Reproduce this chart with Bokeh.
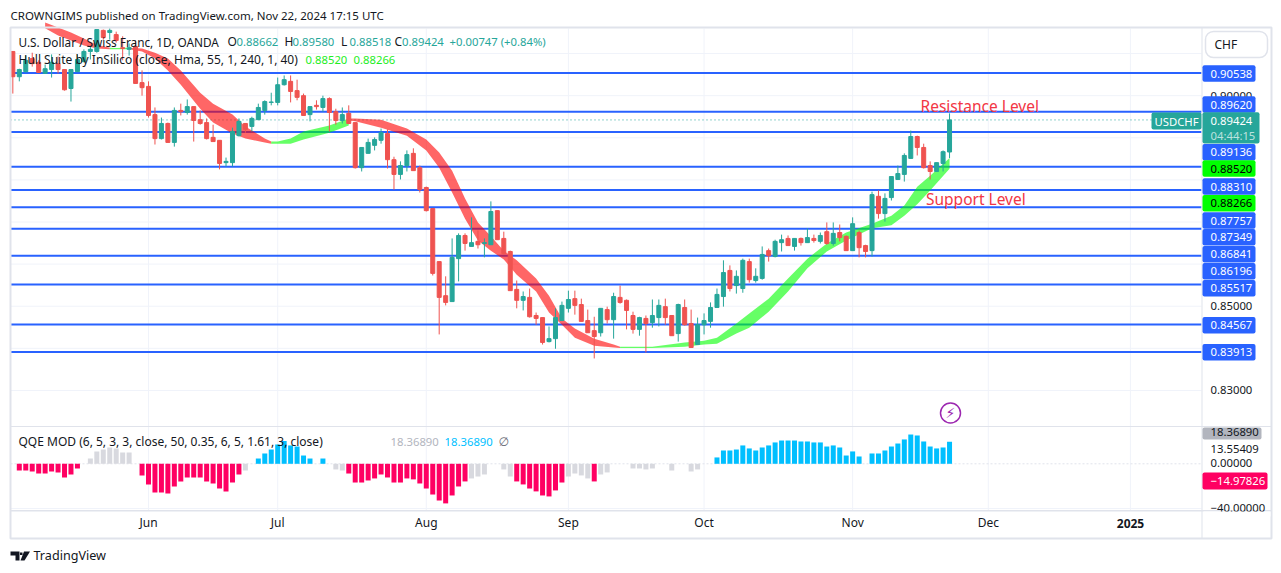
from bokeh.plotting import figure
from bokeh.embed import file_html
from bokeh.resources import INLINE
from bokeh.core.properties import value
from bokeh.models import (Range1d, FixedTicker, NumeralTickFormatter, Label, BoxAnnotation,
                          PolyAnnotation, ColumnDataSource)

opens = [.9105,.9045,.9057,.9088,.9079,.9053,.9062,.9076,.9062,.9017,.9057,.9081,.9105,.9105,.9155,.9150,.9145,.9114,.9110,.9117,.9031,
 .9022,.8955,.8898,.8934,.8889,.8965,.8960,.8974,.8943,.8936,.8901,.8894,.8841,.8841,.8905,.8934,.8927,.8943,.8965,.8984,
 .8984,.9026,.9034,.9012,.9000,.8955,.8977,.8972,.8993,.8962,.8941,.8958,.8936,.8829,.8863,.8882,.8894,.8910,.8848,.8813,
 .8834,.8863,.8829,.8782,.8732,.8606,.8525,.8511,.8613,.8668,.8642,.8654,.8649,.8646,.8727,.8661,.8630,.8540,.8514,.8521,
 .8478,.8473,.8416,.8423,.8466,.8495,.8518,.8504,.8466,.8442,.8437,.8492,.8468,.8521,.8514,.8478,.8445,.8471,.8461,.8473,
 .8499,.8478,.8435,.8497,.8459,.8409,.8456,.8464,.8497,.8523,.8585,.8549,.8542,.8606,.8561,.8566,.8632,.8618,.8651,.8661,
 .8642,.8661,.8651,.8661,.8654,.8677,.8649,.8675,.8666,.8632,.8675,.8644,.8632,.8761,.8720,.8758,.8801,.8813,.8851,.8903,
 .8877,.8834,.8820,.8839,.88662]
highs = [.9105,.9064,.9095,.9102,.9084,.9074,.9098,.9093,.9062,.9062,.9098,.9110,.9117,.9157,.9157,.9160,.9152,.9141,.9124,.9131,.9060,
 .9034,.8972,.8948,.8936,.8972,.8981,.8991,.8974,.8965,.8946,.8931,.8894,.8853,.8924,.8946,.8934,.8950,.8981,.8989,.9007,
 .9043,.9048,.9048,.9038,.9005,.8974,.8989,.9000,.8996,.8969,.8972,.8977,.8936,.8877,.8898,.8901,.8922,.8920,.8855,.8844,
 .8870,.8875,.8834,.8784,.8732,.8606,.8571,.8661,.8673,.8673,.8711,.8680,.8661,.8749,.8727,.8677,.8632,.8561,.8535,.8542,
 .8485,.8473,.8452,.8495,.8511,.8537,.8537,.8518,.8492,.8475,.8495,.8499,.8532,.8549,.8516,.8487,.8475,.8478,.8516,.8516,
 .8518,.8478,.8506,.8516,.8492,.8473,.8483,.8509,.8542,.8609,.8597,.8585,.8613,.8613,.8590,.8642,.8637,.8658,.8670,.8668,
 .8661,.8663,.8685,.8670,.8675,.8699,.8699,.8694,.8668,.8711,.8680,.8646,.8772,.8775,.8768,.8808,.8834,.8863,.8917,.8905,
 .8886,.8844,.8841,.8870,.89580]
lows = [.9005,.9034,.9055,.9069,.9055,.9053,.9043,.9053,.9012,.8986,.9057,.9079,.9086,.9102,.9133,.9133,.9126,.9084,.9095,.9029,.9000,
 .8948,.8884,.8896,.8889,.8879,.8953,.8955,.8891,.8931,.8896,.8891,.8825,.8832,.8832,.8903,.8912,.8915,.8943,.8955,.8977,
 .8977,.9024,.8984,.8989,.8953,.8939,.8967,.8962,.8915,.8931,.8934,.8934,.8827,.8820,.8863,.8870,.8886,.8827,.8777,.8801,
 .8820,.8822,.8770,.8725,.8573,.8433,.8502,.8511,.8559,.8632,.8642,.8637,.8616,.8646,.8658,.8623,.8537,.8495,.8490,.8473,
 .8456,.8409,.8414,.8399,.8466,.8485,.8480,.8464,.8437,.8376,.8428,.8459,.8423,.8506,.8445,.8435,.8430,.8390,.8449,.8452,
 .8456,.8430,.8416,.8454,.8402,.8409,.8433,.8449,.8497,.8499,.8535,.8530,.8532,.8556,.8556,.8563,.8606,.8616,.8630,.8644,
 .8632,.8644,.8651,.8651,.8649,.8646,.8644,.8654,.8632,.8632,.8616,.8616,.8618,.8708,.8701,.8751,.8801,.8796,.8851,.8858,
 .8827,.8801,.8820,.8820,.88518]
closes = [.9045,.9062,.9084,.9076,.9055,.9064,.9079,.9062,.9014,.9062,.9086,.9105,.9110,.9157,.9138,.9155,.9131,.9112,.9114,.9029,.9019,
 .8953,.8898,.8934,.8889,.8965,.8962,.8974,.8941,.8934,.8898,.8891,.8839,.8844,.8915,.8939,.8920,.8946,.8972,.8986,.8985,
 .9026,.9038,.9010,.8996,.8953,.8974,.8974,.8993,.8960,.8941,.8955,.8934,.8829,.8877,.8889,.8896,.8912,.8848,.8813,.8834,
 .8860,.8822,.8777,.8727,.8578,.8521,.8509,.8616,.8668,.8649,.8651,.8646,.8651,.8725,.8658,.8625,.8537,.8514,.8523,.8475,
 .8471,.8414,.8423,.8473,.8502,.8516,.8502,.8464,.8437,.8428,.8495,.8468,.8523,.8509,.8490,.8445,.8473,.8459,.8478,.8502,
 .8473,.8430,.8504,.8456,.8402,.8456,.8466,.8497,.8528,.8580,.8542,.8571,.8609,.8563,.8571,.8623,.8620,.8654,.8658,.8644,
 .8661,.8651,.8663,.8656,.8668,.8649,.8673,.8663,.8632,.8696,.8639,.8630,.8765,.8720,.8756,.8808,.8815,.8858,.8903,.8877,
 .8829,.8820,.8841,.8867,.89424]
bar_index = list(range(-21, 125))

levels = [.90538,.89620,.89136,.88310,.87757,.87349,.86841,.86196,.85517,.84567,.83913]
price_ticks = [.83, .85, .90]
grid_prices = [.83,.84,.85,.86,.87,.88,.89,.90,.91]
last_close = .89424
month_ticks = {0:"Jun",20:"Jul",43:"Aug",65:"Sep",86:"Oct",109:"Nov",130:"Dec",152:"2025"}

red_a_x = [-16,-14,-12,-10,-8,-6]
red_a_hi = [.9174,.9162,.9150,.9136,.9121,.9114]
red_a_lo = [.9160,.9143,.9131,.9119,.9112,.9110]
green_a_x = [-6,-5,-3]
green_a_hi = [.9114,.9113,.9114]
green_a_lo = [.9110,.9110,.9110]
red_b_x = [-3,-1,1,3,5,8,10,13,15,18,19]
red_b_hi = [.9114,.9112,.9102,.9088,.9060,.9007,.8981,.8955,.8927,.8898,.8891]
red_b_lo = [.9110,.9105,.9088,.9060,.9026,.8969,.8936,.8910,.8898,.8889,.8886]
green_b_x = [19,20,22,24,28,31]
green_b_hi = [.8891,.8891,.8898,.8915,.8929,.8946]
green_b_lo = [.8886,.8886,.8886,.8896,.8912,.8929]
red_c_x = [31,32,36,40,43,45,47,49,51,53,55,57,60,62,64,66,69,72,73]
red_c_hi = [.8946,.8946,.8943,.8922,.8896,.8865,.8822,.8756,.8699,.8666,.8632,.8609,.8566,.8525,.8471,.8447,.8423,.8409,.8404]
red_c_lo = [.8941,.8939,.8924,.8905,.8870,.8829,.8770,.8708,.8656,.8632,.8611,.8575,.8535,.8485,.8456,.8425,.8406,.8402,.8401]
green_c_x = [73,78,83,86,88,91,93,96,99,102,105,108,112,115,117,119,121,124]
green_c_hi = [.8404,.8404,.8414,.8418,.8425,.8459,.8483,.8518,.8566,.8613,.8649,.8675,.8696,.8715,.8739,.8784,.8810,.88520]
green_c_lo = [.8401,.8401,.8404,.8409,.8411,.8435,.8449,.8487,.8535,.8590,.8630,.8656,.8685,.8692,.8715,.8742,.8775,.88266]

qqe_index = list(range(-20, 125))
qqe_values = [-5.6,-5.6,-6.4,-8.1,-8.1,-6.4,-7.2,-11.4,-8.9,-3.9,
 0,4.4,10.3,11.9,13.6,12.8,9.4,9.4,0,-9.7,
 -17.2,-23.9,-23.9,-24.7,-18.9,-14.7,-11.4,-11.4,-11.4,-14.7,
 -16.4,-20.6,-23,-15.6,-8.9,-5.6,0,4.4,8.6,11.9,
 16.1,19,15.3,14.4,6.9,4.4,0,4.4,0,-4.7,
 -5.6,-8.1,-15.6,-15.6,-13.9,-12.2,-8.9,-11.4,-15.6,-15.6,
 -12.2,-13,-16.4,-20.6,-25.6,-30.6,-33,-26.4,-18.9,-14.7,
 -12.2,-10.6,-8.9,0,0,-4.7,-10.6,-14.7,-17.2,-20.6,
 -23,-26.4,-27.2,-22.2,-15.6,-10.6,-8.1,-9.7,-12.2,-14.7,
 -8.9,-7.2,0,0,0,-3.9,-3.9,-4.7,-3.9,0,
 0,-5.6,0,0,-6.4,-4.7,0,0,5.3,11.1,
 11.1,11.9,15.3,12.8,11.1,13.6,15.3,17.8,19.4,19.4,
 19.4,18.6,18.6,17.8,17.8,14.4,15.3,13.6,6.9,10.3,
 6.1,0,8.6,8.6,11.1,14.4,16.9,20.3,24.4,23.6,
 18.6,14.4,12.8,13.6,18.37]
qqe_states = list("rrrrrrrrrr" "nnnnnnnnnr" "rrrrrrrrrr" "rrrrrnnbbb" "bbbbbbnbnn"
                  "nrrrrrrrrr" "rrrrrrrrrr" "nnnnnnnrrr" "rrrrrnnnnr" "nnnnnnnnnn"
                  "nnnnnnnnbb" "bbbbbbbbbb" "bbbbbbbbbb" "bnbbbbbbbb" "bbbbb")

FONT = "Noto Sans"
NUM = "11.3px"
INK = "#131722"
BLUE = "#2962ff"
TEAL = "#26a69a"
RED = "#ef5350"
EDGE = "#e0e3eb"
GRID = "#f0f3fa"
CW, CH = 1273, 565

# canvas pixel -> data helpers for the furniture around the bars
def X(px): return (px - 148) / 6.46
def Y(py): return 0.92260 - 0.00023747 * py
def Q(py): return (463.3 - py) / 1.2

p = figure(width=CW, height=CH, output_backend="svg", toolbar_location=None,
           x_range=Range1d(X(0), X(CW)), y_range=Range1d(Y(CH), Y(0)),
           y_axis_location="right", min_border=0, outline_line_color=None,
           background_fill_color="white", border_fill_color="white")
p.extra_y_ranges = {"qqe": Range1d(Q(CH), Q(0))}

ax = p.xaxis[0]
ax.fixed_location = Y(510)
ax.ticker = FixedTicker(ticks=list(month_ticks))
ax.major_label_overrides = {**month_ticks, 152: " "}
ax.major_tick_line_color = None
ax.major_tick_out = 0
ax.minor_tick_line_color = None
ax.axis_line_color = None
ax.major_label_text_font = FONT
ax.major_label_text_font_size = "12px"
ax.major_label_text_color = INK
ax.major_label_standoff = 3

ay = p.yaxis[0]
ay.fixed_location = X(1201)
ay.ticker = FixedTicker(ticks=price_ticks)
ay.formatter = NumeralTickFormatter(format="0.00000")
ay.major_tick_line_color = None
ay.major_tick_out = 0
ay.minor_tick_line_color = None
ay.axis_line_color = None
ay.major_label_text_font = FONT
ay.major_label_text_font_size = NUM
ay.major_label_text_color = INK
ay.major_label_standoff = 9

p.xgrid.visible = False
p.ygrid.visible = False

# grid lines, only inside the panes
p.segment(x0=list(month_ticks), x1=list(month_ticks), y0=Y(28), y1=Y(510), line_color=GRID, line_width=1)
p.segment(x0=X(10), x1=X(1201), y0=grid_prices, y1=grid_prices, line_color=GRID, line_width=1)
p.segment(x0=X(10), x1=X(1201), y0=Q(508), y1=Q(508), y_range_name="qqe", line_color=GRID, line_width=1)

p.segment(x0=X(10), x1=X(1201), y0=levels, y1=levels, line_color=BLUE, line_width=2)
p.segment(x0=X(10), x1=X(1201), y0=last_close, y1=last_close, line_color=TEAL, line_width=1, line_dash="1 3")


def band(xs, hi, lo, color):
    p.varea(x=xs, y1=hi, y2=lo, fill_color=color, fill_alpha=0.6)


band(red_a_x, red_a_hi, red_a_lo, "#ff0000")
band(green_a_x, green_a_hi, green_a_lo, "#00ff00")
band(red_b_x, red_b_hi, red_b_lo, "#ff0000")
band(green_b_x, green_b_hi, green_b_lo, "#00ff00")
band(red_c_x, red_c_hi, red_c_lo, "#ff0000")
band(green_c_x, green_c_hi, green_c_lo, "#00ff00")

colors = [TEAL if c >= o else RED for o, c in zip(opens, closes)]
src = ColumnDataSource(dict(x=bar_index, o=opens, h=highs, l=lows, c=closes, col=colors,
                            top=[max(a, b) for a, b in zip(opens, closes)],
                            bot=[min(a, b) for a, b in zip(opens, closes)]))
p.segment(x0="x", x1="x", y0="h", y1="l", line_color="col", line_width=1, source=src)
p.vbar(x="x", width=4 / 6.46, top="top", bottom="bot", fill_color="col", line_color="col",
       line_width=1, source=src)

# QQE pane
p.segment(x0=X(10), x1=X(1201), y0=0, y1=0, y_range_name="qqe", line_color=EDGE, line_width=1, line_dash="2 2")
qqe_palette = {"r": "#ff0062", "n": "#d8d9df", "b": "#00bfff"}
p.vbar(x=qqe_index, width=5 / 6.46, top=qqe_values, bottom=0, y_range_name="qqe",
       fill_color=[qqe_palette[s] for s in qqe_states], line_color=None)

# lightning marker
p.scatter(x=[X(950)], y=[Y(412.5)], size=20, marker="circle", fill_color="white",
          line_color="#9c27b0", line_width=1.5)
p.text(x=[X(950)], y=[Y(412.5)], text=["⚡"], text_font=value("DejaVu Sans"), text_font_size="14px",
       text_font_style="bold", text_color="#9c27b0", text_align="center", text_baseline="middle")


def box(left, right, top, bottom, fill=None, line=None, radius=0, lw=1):
    b = BoxAnnotation(left=X(left), right=X(right), top=Y(top), bottom=Y(bottom),
                      fill_color=fill if fill else "white", fill_alpha=1 if fill else 0,
                      line_color=line if line else "white", line_alpha=1 if line else 0,
                      line_width=lw, border_radius=radius)
    p.add_layout(b)


def lab(px, py, text, color=INK, size="12px", align="left", font=FONT, style="normal", alpha=1.0):
    p.add_layout(Label(x=X(px), y=Y(py), text=text, text_color=color, text_font_size=size,
                       text_font=font, text_align=align, text_baseline="middle",
                       text_font_style=style, text_alpha=alpha))


# outer frame and pane separators
box(10, 1271, 27, 538, line=EDGE, lw=2)
box(10, 1271, 425.5, 426.5, fill=EDGE)
box(10, 1271, 509.5, 511, fill=EDGE)
box(1201, 1202, 27, 538, fill=EDGE)

# header and footer
lab(10, 15, "CROWNGIMS published on TradingView.com, Nov 22, 2024 17:15 UTC", size="11.5px")
lab(18, 41, "U.S. Dollar / Swiss Franc, 1D, OANDA", size="11.8px")
for px, t in [(227, "O"), (284, "H"), (340.5, "L"), (394, "C")]:
    lab(px, 41, t)
for px, t in [(236, "0.88662"), (292, "0.89580"), (349, "0.88518"), (401.5, "0.89424"),
              (449, "+0.00747 (+0.84%)")]:
    lab(px, 41, t, color=TEAL, size=NUM)
lab(18, 59, "Hull Suite by InSilico (close, Hma, 55, 1, 240, 1, 40)")
lab(305, 59, "0.88520", color="#22ee22", size=NUM)
lab(353, 59, "0.88266", color="#22ee22", size=NUM)
lab(18, 441, "QQE MOD (6, 5, 3, 3, close, 50, 0.35, 6, 5, 1.61, 3, close)")
lab(390, 441, "18.36890", color="#b2b5be", size=NUM)
lab(444, 441, "18.36890", color="#00bfff", size=NUM)
lab(498, 441, "∅", color="#6a6d78", font="DejaVu Sans")
lab(920, 105, "Resistance Level", color="#f23645", size="15.5px")
lab(925.5, 198, "Support Level", color="#f23645", size="15.5px")
lab(1130, 522.5, "2025", align="center", style="bold")

# CHF button
box(1205, 1267, 31, 57, line=EDGE, radius=8, lw=1.5)
lab(1214, 44, "CHF")

# price tags, bottom to top
tags = [(.90538, 73), (.89620, 104), (.89136, 151.7), (.88520, 168), (.88310, 186), (.88266, 202.7),
        (.87757, 220), (.87349, 236.7), (.86841, 253.7), (.86196, 270.7), (.85517, 287.7),
        (.84567, 324.7), (.83913, 351.7)]
lime = {.88520, .88266}
for price, py in tags:
    is_lime = price in lime
    box(1202, 1255, py - 8.3, py + 8.3, fill="#00ff00" if is_lime else BLUE, radius=2)
    lab(1210, py, f"{price:.5f}", color="black" if is_lime else "white", size=NUM)

box(1151, 1201, 112, 129, fill=TEAL, radius=2)
lab(1176, 120.5, "USDCHF", color="white", align="center", size=NUM)
box(1202, 1259, 111.7, 143, fill=TEAL, radius=2)
lab(1210, 120.5, "0.89424", color="white", size=NUM)
lab(1210, 135, "04:44:15", color="white", alpha=0.7, size=NUM)

# QQE price scale
box(1202, 1261, 427, 439, fill="#b2b5be", radius=2)
lab(1210, 431, "18.36890", size=NUM)
lab(1210, 448, "13.55409", size=NUM)
lab(1210, 462.7, "0.00000", size=NUM)
box(1202, 1267, 472, 489, fill="#ff0062", radius=2)
lab(1210, 480.7, "\u221214.97826", color="white", size=NUM)
lab(1210, 507, "\u221240.00000", size=NUM)
box(1203, 1270, 511, 516, fill="white")

# TradingView mark
p.add_layout(PolyAnnotation(xs=[X(v) for v in (10, 19, 19, 15, 15, 10)],
                            ys=[Y(v) for v in (551, 551, 560, 560, 555, 555)],
                            fill_color=INK, fill_alpha=1, line_color=INK, line_alpha=0))
p.add_layout(PolyAnnotation(xs=[X(v) for v in (19.5, 22, 22, 19.5)],
                            ys=[Y(v) for v in (552, 552, 554.5, 554.5)],
                            fill_color=INK, fill_alpha=1, line_color=INK, line_alpha=0))
p.add_layout(PolyAnnotation(xs=[X(v) for v in (23.5, 29.5, 24, 20)],
                            ys=[Y(v) for v in (551, 551, 560, 560)],
                            fill_color=INK, fill_alpha=1, line_color=INK, line_alpha=0))
lab(33, 555, "TradingView", size="12.6px")

open("out.html", "w").write(file_html(p, INLINE))
